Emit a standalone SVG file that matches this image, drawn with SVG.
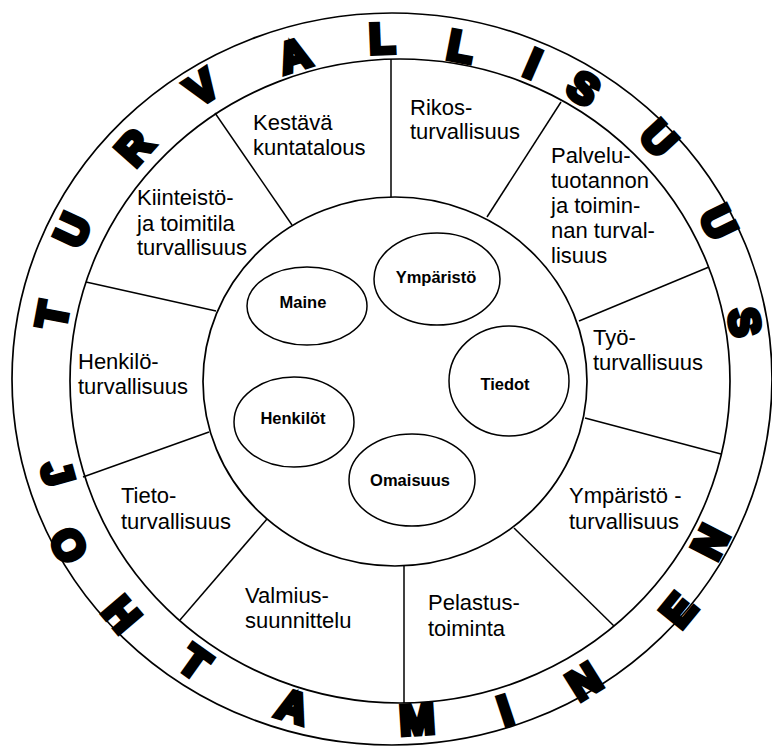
<svg xmlns="http://www.w3.org/2000/svg" width="772" height="746" viewBox="0 0 772 746">
<style>
.ring{fill:none;stroke:#000;stroke-width:1.7}
.div{stroke:#000;stroke-width:1.5;fill:none}
.lbl{font-family:"Liberation Sans",Arial,sans-serif;font-size:22px;fill:#000}
.core{fill:#fff;stroke:#000;stroke-width:1.5}
.ct{font-family:"Liberation Sans",Arial,sans-serif;font-size:16.5px;font-weight:bold;text-anchor:middle;fill:#000}
.big{font-family:"Liberation Sans",Arial,sans-serif;font-size:42px;font-weight:bold;text-anchor:middle;fill:#000;stroke:#000;stroke-width:5;stroke-linejoin:miter}
</style>
<rect width="772" height="746" fill="#fff"/>
<g id="rings">
<ellipse class="ring" cx="392" cy="379" rx="380" ry="366"/>
<ellipse class="ring" cx="400" cy="381" rx="330" ry="322"/>
<ellipse class="ring" cx="395" cy="381.5" rx="192" ry="184.5"/>
</g>
<g id="connectors">
<line class="div" x1="391" y1="59" x2="391" y2="197"/>
<line class="div" x1="215" y1="113" x2="292" y2="225"/>
<line class="div" x1="86" y1="282" x2="216" y2="311"/>
<line class="div" x1="83" y1="477" x2="209" y2="432"/>
<line class="div" x1="180" y1="620" x2="267" y2="519"/>
<line class="div" x1="404" y1="566" x2="404" y2="703"/>
<line class="div" x1="514" y1="528" x2="614" y2="626"/>
<line class="div" x1="585" y1="418" x2="721" y2="454"/>
<line class="div" x1="579" y1="321" x2="709" y2="267"/>
<line class="div" x1="487" y1="217" x2="561" y2="102"/>
</g>
<g id="title-top">
<g transform="translate(52,315) rotate(-79.3)"><text class="big" y="15">T</text></g>
<g transform="translate(72,230) rotate(-65.2)"><text class="big" y="15">U</text></g>
<g transform="translate(134,147) rotate(-48.3)"><text class="big" y="15">R</text></g>
<g transform="translate(202,87) rotate(-33.5)"><text class="big" y="15">V</text></g>
<g transform="translate(294,55) rotate(-17.4)"><text class="big" y="15">A</text></g>
<g transform="translate(382,38) rotate(-2.3)"><text class="big" y="15">L</text></g>
<g transform="translate(461,46) rotate(11)"><text class="big" y="15">L</text></g>
<g transform="translate(533,63) rotate(23.4)"><text class="big" y="15">I</text></g>
<g transform="translate(584,88) rotate(32.8)"><text class="big" y="15">S</text></g>
<g transform="translate(659,138) rotate(47.4)"><text class="big" y="15">U</text></g>
<g transform="translate(719,222) rotate(63.9)"><text class="big" y="15">U</text></g>
<g transform="translate(745,322) rotate(80.6)"><text class="big" y="15">S</text></g>
</g>
<g id="title-bottom">
<g transform="translate(58,473) rotate(74.6)"><text class="big" y="15">J</text></g>
<g transform="translate(69,545) rotate(63.2)"><text class="big" y="15">O</text></g>
<g transform="translate(122,614) rotate(49.5)"><text class="big" y="15">H</text></g>
<g transform="translate(195,662) rotate(35.5)"><text class="big" y="15">T</text></g>
<g transform="translate(293,706) rotate(17.5)"><text class="big" y="15">A</text></g>
<g transform="translate(417,719) rotate(-3.5)"><text class="big" y="15">M</text></g>
<g transform="translate(505,710) rotate(-18.3)"><text class="big" y="15">I</text></g>
<g transform="translate(584,681) rotate(-32)"><text class="big" y="15">N</text></g>
<g transform="translate(678,610) rotate(-50.8)"><text class="big" y="15">E</text></g>
<g transform="translate(710,542) rotate(-62.7)"><text class="big" y="15">N</text></g>
</g>
<g id="kestava"><text class="lbl" x="253" y="130">Kestävä</text><text class="lbl" x="253" y="155">kuntatalous</text></g>
<g id="kiinteisto"><text class="lbl" x="137" y="205">Kiinteistö-</text><text class="lbl" x="137" y="231">ja toimitila</text><text class="lbl" x="137" y="255">turvallisuus</text></g>
<g id="henkilo"><text class="lbl" x="78" y="369">Henkilö-</text><text class="lbl" x="78" y="394">turvallisuus</text></g>
<g id="tieto"><text class="lbl" x="121" y="503">Tieto-</text><text class="lbl" x="121" y="529">turvallisuus</text></g>
<g id="valmius"><text class="lbl" x="245" y="603">Valmius-</text><text class="lbl" x="245" y="628">suunnittelu</text></g>
<g id="pelastus"><text class="lbl" x="428" y="610">Pelastus-</text><text class="lbl" x="428" y="636">toiminta</text></g>
<g id="ymparisto-turv"><text class="lbl" x="569" y="503">Ympäristö -</text><text class="lbl" x="569" y="529">turvallisuus</text></g>
<g id="tyo"><text class="lbl" x="593" y="345">Työ-</text><text class="lbl" x="593" y="370">turvallisuus</text></g>
<g id="palvelu"><text class="lbl" x="551" y="163">Palvelu-</text><text class="lbl" x="551" y="188">tuotannon</text><text class="lbl" x="551" y="213">ja toimin-</text><text class="lbl" x="551" y="238">nan turval-</text><text class="lbl" x="551" y="263">lisuus</text></g>
<g id="rikos"><text class="lbl" x="410" y="115">Rikos-</text><text class="lbl" x="410" y="139">turvallisuus</text></g>
<g id="maine"><ellipse class="core" cx="307" cy="306" rx="60" ry="39"/><text class="ct" x="303" y="308">Maine</text></g>
<g id="ymparisto"><ellipse class="core" cx="437" cy="279" rx="63" ry="46"/><text class="ct" x="436" y="283">Ympäristö</text></g>
<g id="tiedot"><ellipse class="core" cx="509" cy="381" rx="60" ry="55"/><text class="ct" x="505" y="390">Tiedot</text></g>
<g id="henkilot"><ellipse class="core" cx="294" cy="422" rx="60" ry="45"/><text class="ct" x="293" y="424">Henkilöt</text></g>
<g id="omaisuus"><ellipse class="core" cx="412" cy="480" rx="63" ry="46"/><text class="ct" x="410" y="486">Omaisuus</text></g>
</svg>
